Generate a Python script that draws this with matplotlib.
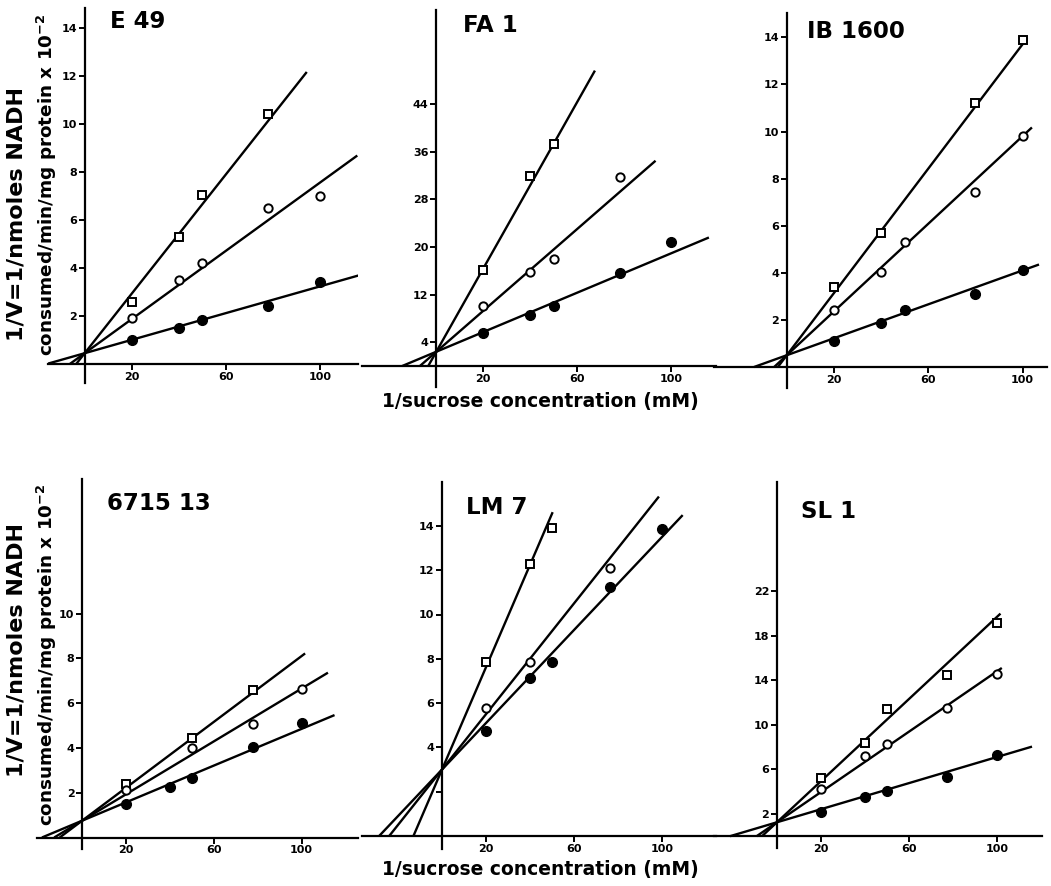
import numpy as np
import matplotlib
matplotlib.use("Agg")
import matplotlib.pyplot as plt

plt.rcParams['font.family'] = ['DejaVu Sans']
plt.rcParams['font.weight'] = 'bold'
plt.rcParams['mathtext.default'] = 'bf'

nan = np.nan

# ---------------- data ----------------
panel_names = ["E 49", "FA 1", "IB 1600", "6715 13", "LM 7", "SL 1"]
x_ticks = [20, 60, 100]

# E 49
e49_x = [20, 40, 50, 78, 100]
e49_sq = [2.6, 5.3, 7.05, 10.4, nan]
e49_oc = [1.9, 3.5, 4.2, 6.5, 7.0]
e49_fc = [1.0, 1.5, 1.85, 2.4, 3.4]
e49_icpt = 0.45
e49_slopes = [0.124, 0.071, 0.0278]
e49_ends = [94.5, 116, 117]
e49_yticks = [2, 4, 6, 8, 10, 12, 14]
e49_ylabels = ["2", "4", "6", "8", "10", "12", "14"]

# FA 1
fa1_x = [20, 40, 50, 78, 100]
fa1_sq = [16.1, 32.0, 37.3, nan, nan]
fa1_oc = [10.1, 15.8, 17.9, 31.8, nan]
fa1_fc = [5.5, 8.6, 10.1, 15.7, 20.8]
fa1_icpt = 2.4
fa1_slopes = [0.70, 0.344, 0.1655]
fa1_ends = [67.5, 93.3, 116]
fa1_yticks = [4, 12, 20, 28, 36, 44]
fa1_ylabels = ["4", "12", "20", "28", "36", "44"]

# IB 1600
ib_x = [20, 40, 50, 80, 100]
ib_sq = [3.4, 5.7, nan, 11.2, 13.9]
ib_oc = [2.4, 4.05, 5.3, 7.45, 9.8]
ib_fc = [1.1, 1.85, 2.4, 3.1, 4.1]
ib_icpt = 0.5
ib_slopes = [0.132, 0.093, 0.036]
ib_ends = [102, 104, 107]
ib_yticks = [2, 4, 6, 8, 10, 12, 14]
ib_ylabels = ["2", "4", "6", "8", "10", "12", "14"]

# 6715 13
s67_x = [20, 40, 50, 78, 100]
s67_sq = [2.4, nan, 4.45, 6.6, nan]
s67_oc = [2.1, nan, 3.98, 5.07, 6.63]
s67_fc = [1.5, 2.27, 2.67, 4.05, 5.12]
s67_icpt = 0.75
s67_slopes = [0.0735, 0.059, 0.041]
s67_ends = [101.6, 112, 115]
s67_yticks = [2, 4, 6, 8, 10]
s67_ylabels = ["2", "4", "6", "8", "10"]

# LM 7
lm7_x = [20, 40, 50, 76.5, 100]
lm7_sq = [7.85, 12.3, 13.9, nan, nan]
lm7_oc = [5.77, 7.87, nan, 12.1, nan]
lm7_fc = [4.75, 7.12, 7.84, 11.25, 13.85]
lm7_icpt = 3.0
lm7_slopes = [0.231, 0.125, 0.105]
lm7_ends = [50.3, 98.6, 109.4]
lm7_yticks = [2, 4, 6, 8, 10, 12, 14]
lm7_ylabels = ["", "4", "6", "8", "10", "12", "14"]

# SL 1
sl1_x = [20, 40, 50, 77, 100]
sl1_sq = [5.26, 8.4, 11.4, 14.5, 19.2]
sl1_oc = [4.2, 7.2, 8.26, 11.5, 14.55]
sl1_fc = [2.2, 3.5, 4.09, 5.3, 7.3]
sl1_icpt = 1.25
sl1_slopes = [0.185, 0.136, 0.0588]
sl1_ends = [101.4, 102, 115.7]
sl1_yticks = [2, 6, 10, 14, 18, 22]
sl1_ylabels = ["2", "6", "10", "14", "18", "22"]

panels = [
    (e49_x, e49_sq, e49_oc, e49_fc, e49_icpt, e49_slopes, e49_ends, e49_yticks, e49_ylabels),
    (fa1_x, fa1_sq, fa1_oc, fa1_fc, fa1_icpt, fa1_slopes, fa1_ends, fa1_yticks, fa1_ylabels),
    (ib_x, ib_sq, ib_oc, ib_fc, ib_icpt, ib_slopes, ib_ends, ib_yticks, ib_ylabels),
    (s67_x, s67_sq, s67_oc, s67_fc, s67_icpt, s67_slopes, s67_ends, s67_yticks, s67_ylabels),
    (lm7_x, lm7_sq, lm7_oc, lm7_fc, lm7_icpt, lm7_slopes, lm7_ends, lm7_yticks, lm7_ylabels),
    (sl1_x, sl1_sq, sl1_oc, sl1_fc, sl1_icpt, sl1_slopes, sl1_ends, sl1_yticks, sl1_ylabels),
]

# ---------------- layout (pixels) ----------------
W, H = 1051, 886
# x0 pixel, px per x unit, y0 pixel, px per y unit, left, right, top, bottom
layout = [
    (84.7, 2.35, 364.0, 24.0, 48, 358, 8, 383),
    (436.3, 2.35, 366.0, 5.95, 362, 716, 10, 387),
    (786.8, 2.357, 367.0, 23.55, 714, 1047, 13, 388),
    (82.1, 2.195, 837.5, 22.4, 37, 358, 479, 849),
    (442.0, 2.2, 836.0, 22.15, 362, 716, 482, 849),
    (776.9, 2.205, 836.2, 11.125, 714, 1042, 482, 848),
]
title_pos = [(110, 21.5), (463, 25), (807, 32), (107, 503), (466, 507), (801, 512)]

fig = plt.figure(figsize=(W / 100, H / 100), dpi=100)

for (name, pdata, lay, tpos) in zip(panel_names, panels, layout, title_pos):
    xs, sq, oc, fc, icpt, slopes, ends, yt, yl = pdata
    x0, sx, y0, sy, L, R, T, B = lay
    ax = fig.add_axes([L / W, 1 - B / H, (R - L) / W, (B - T) / H])
    ax.set_xlim((L - x0) / sx, (R - x0) / sx)
    ax.set_ylim((y0 - B) / sy, (y0 - T) / sy)
    ax.patch.set_alpha(0)
    for s in ("top", "right"):
        ax.spines[s].set_visible(False)
    ax.spines["left"].set_position(("data", 0))
    ax.spines["bottom"].set_position(("data", 0))
    for s in ("left", "bottom"):
        ax.spines[s].set_linewidth(1.6)
    ax.set_xticks(x_ticks)
    ax.set_xticklabels([str(v) for v in x_ticks])
    ax.set_yticks(yt)
    ax.set_yticklabels(yl)
    ax.tick_params(axis="both", direction="out", length=4, width=1.4,
                   labelsize=8, pad=1.5)
    for lab in ax.get_xticklabels() + ax.get_yticklabels():
        lab.set_fontweight("bold")

    # fitted lines: from x-axis intercept to end point
    for slope, xe in zip(slopes, ends):
        xstart = -icpt / slope
        xx = np.array([xstart, xe])
        ax.plot(xx, icpt + slope * xx, color="black", lw=1.7,
                solid_capstyle="butt", zorder=2)

    xs = np.array(xs, dtype=float)
    ax.plot(xs, sq, linestyle="none", marker="s", ms=5.5, mfc="white",
            mec="black", mew=1.4, zorder=3)
    ax.plot(xs, oc, linestyle="none", marker="o", ms=6, mfc="white",
            mec="black", mew=1.4, zorder=3)
    ax.plot(xs, fc, linestyle="none", marker="o", ms=7, mfc="black",
            mec="black", zorder=3)

    fig.text(tpos[0] / W, 1 - tpos[1] / H, name, fontsize=16.5,
             fontweight="bold", ha="left", va="center")

# axis labels
ylab1 = "1/V=1/nmoles NADH"
ylab2 = "consumed/min/mg protein x 10$^{-2}$"
xlab = "1/sucrose concentration (mM)"

for (c1, c2) in [((17, 214), (47, 185)), ((17, 650), (47, 655))]:
    fig.text(c1[0] / W, 1 - c1[1] / H, ylab1, rotation=90, fontsize=16,
             fontweight="bold", ha="center", va="center")
    fig.text(c2[0] / W, 1 - c2[1] / H, ylab2, rotation=90, fontsize=13.2,
             fontweight="bold", ha="center", va="center")

fig.text(540 / W, 1 - 401 / H, xlab, fontsize=13.5, fontweight="bold",
         ha="center", va="center")
fig.text(540 / W, 1 - 870 / H, xlab, fontsize=13.5, fontweight="bold",
         ha="center", va="center")

fig.savefig("out.png", dpi=100)
